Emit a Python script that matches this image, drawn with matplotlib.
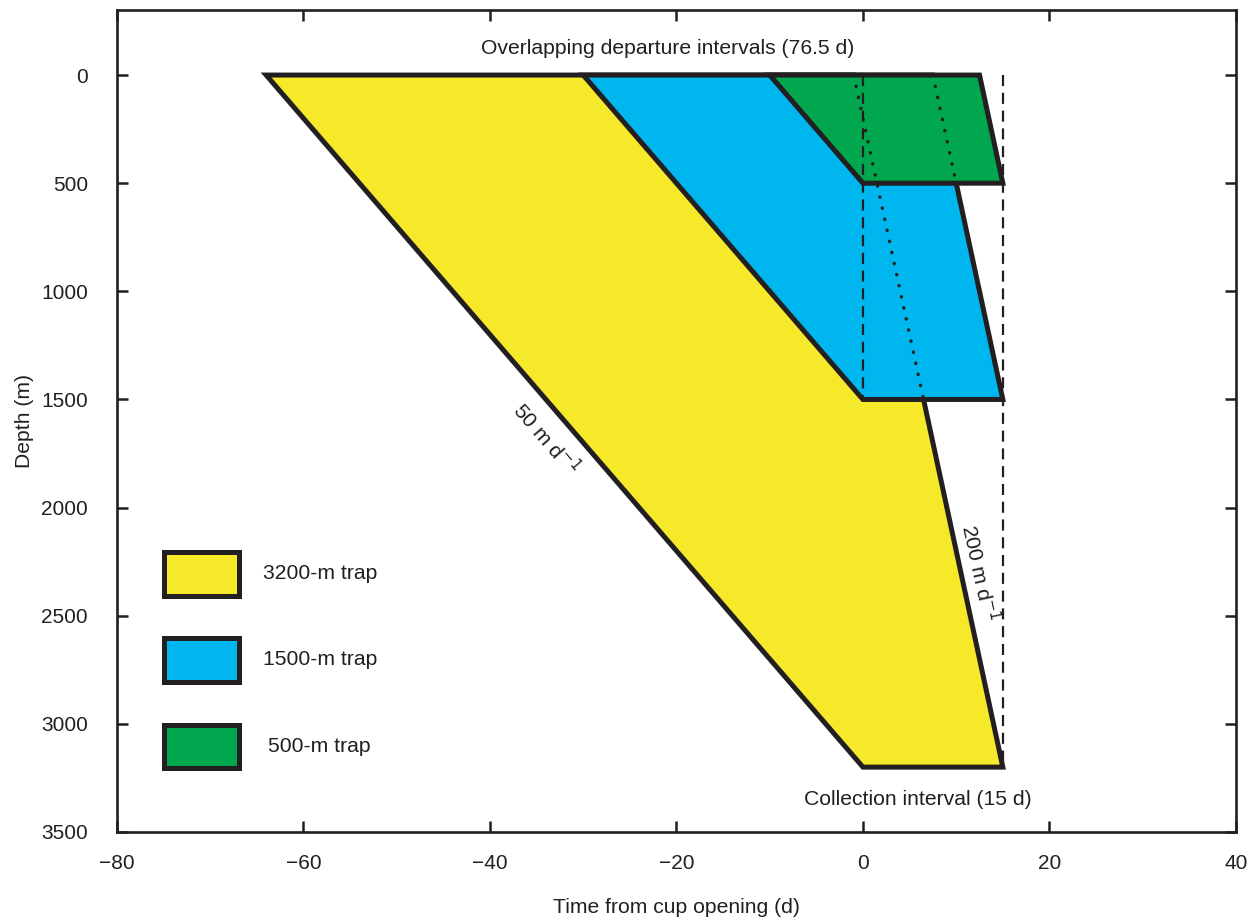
import matplotlib
matplotlib.use("Agg")
import matplotlib.pyplot as plt
from matplotlib.patches import Polygon, Rectangle

plt.rcParams['font.family'] = ['Liberation Sans', 'DejaVu Sans']

# ---- data ----
trap_labels = ["3200-m trap", "1500-m trap", "500-m trap"]
trap_depths = [3200, 1500, 500]
collection_days = 15
slow_rate = 50      # m/d
fast_rate = 200     # m/d
colors = ["#f6e92a", "#00b6ee", "#00a74f"]
edge = "#231f20"

xticks = [-80, -60, -40, -20, 0, 20, 40]
yticks = [0, 500, 1000, 1500, 2000, 2500, 3000, 3500]

FS = 15.2

fig = plt.figure(figsize=(12.59, 9.17), dpi=100)
ax = fig.add_axes([0.0929, 0.0927, 0.8888, 0.8962])
ax.set_xlim(-80, 40)
ax.set_ylim(3500, -300)

# polygons: departure at surface for slow and fast sinkers
for d, c in zip(trap_depths, colors):
    t_slow0 = -d / slow_rate
    t_fast0 = collection_days - d / fast_rate
    verts = [(t_slow0, 0), (0, d), (collection_days, d), (t_fast0, 0)]
    ax.add_patch(Polygon(verts, closed=True, facecolor=c, edgecolor=edge,
                         linewidth=3.6, joinstyle='miter', zorder=2))

# hidden fast-sinking edges (dotted) for deeper traps
for d, shallower in [(3200, 1500), (1500, 500)]:
    t_fast0 = collection_days - d / fast_rate
    t_at = collection_days - (d - shallower) / fast_rate
    ax.plot([t_fast0, t_at], [0, shallower], linestyle=(0, (0.1, 3.3)),
            dash_capstyle='round', color=edge, linewidth=2.4, zorder=4)

# dashed collection interval bounds
ax.plot([0, 0], [0, 1500], linestyle=(0, (5, 3)), color=edge, linewidth=1.6, zorder=4)
ax.plot([collection_days, collection_days], [0, 3200], linestyle=(0, (5, 3)),
        color=edge, linewidth=1.6, zorder=3)

# annotations
ax.text(-21, -125, "Overlapping departure intervals (76.5 d)", ha='center', va='center',
        fontsize=FS, color=edge)
ax.text(5.9, 3352, "Collection interval (15 d)", ha='center', va='center',
        fontsize=FS, color=edge)
ax.text(-34.0, 1680, "50 m d$^{-1}$", rotation=-49.3, ha='center', va='center',
        fontsize=FS, color=edge, rotation_mode='anchor')
ax.text(12.5, 2300, "200 m d$^{-1}$", rotation=-77.7, ha='center', va='center',
        fontsize=FS, color=edge, rotation_mode='anchor')

# legend boxes
leg_bottoms = [0.2877, 0.1831, 0.0773]
label_x = [0.1305, 0.1305, 0.135]
for lab, c, b, lx in zip(trap_labels, colors, leg_bottoms, label_x):
    ax.add_patch(Rectangle((0.0424, b), 0.067, 0.0530, transform=ax.transAxes,
                           facecolor=c, edgecolor=edge, linewidth=3.6,
                           joinstyle='miter', zorder=5, clip_on=False))
    ax.text(lx, b + 0.0265, lab, transform=ax.transAxes, ha='left', va='center',
            fontsize=FS, color=edge)

ax.set_xticks(xticks)
ax.set_yticks(yticks)
ax.set_xticklabels([("\u2212" + str(-v)) if v < 0 else str(v) for v in xticks])
ax.tick_params(axis='both', direction='in', length=8, width=1.8, color=edge,
               labelsize=15, labelcolor=edge, top=True, right=True)
ax.tick_params(axis='y', pad=21)
ax.tick_params(axis='x', pad=16)
for s in ax.spines.values():
    s.set_linewidth(1.9)
    s.set_color(edge)

ax.set_xlabel("Time from cup opening (d)", fontsize=FS, color=edge, labelpad=18)
ax.set_ylabel("Depth (m)", fontsize=FS, color=edge, labelpad=5)

fig.savefig("out.png", dpi=100)
